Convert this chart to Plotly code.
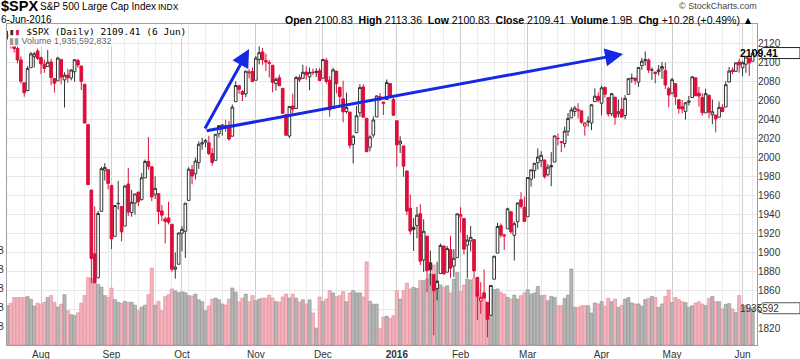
import plotly.graph_objects as go
import pandas as pd

dates = """
2015-07-20 2015-07-21 2015-07-22 2015-07-23 2015-07-24 2015-07-27 2015-07-28 2015-07-29 2015-07-30 2015-07-31
2015-08-03 2015-08-04 2015-08-05 2015-08-06 2015-08-07 2015-08-10 2015-08-11 2015-08-12 2015-08-13 2015-08-14
2015-08-17 2015-08-18 2015-08-19 2015-08-20 2015-08-21 2015-08-24 2015-08-25 2015-08-26 2015-08-27 2015-08-28 2015-08-31
2015-09-01 2015-09-02 2015-09-03 2015-09-04 2015-09-08 2015-09-09 2015-09-10 2015-09-11 2015-09-14 2015-09-15
2015-09-16 2015-09-17 2015-09-18 2015-09-21 2015-09-22 2015-09-23 2015-09-24 2015-09-25 2015-09-28 2015-09-29 2015-09-30
2015-10-01 2015-10-02 2015-10-05 2015-10-06 2015-10-07 2015-10-08 2015-10-09 2015-10-12 2015-10-13 2015-10-14 2015-10-15
2015-10-16 2015-10-19 2015-10-20 2015-10-21 2015-10-22 2015-10-23 2015-10-26 2015-10-27 2015-10-28 2015-10-29 2015-10-30
2015-11-02 2015-11-03 2015-11-04 2015-11-05 2015-11-06 2015-11-09 2015-11-10 2015-11-11 2015-11-12 2015-11-13
2015-11-16 2015-11-17 2015-11-18 2015-11-19 2015-11-20 2015-11-23 2015-11-24 2015-11-25 2015-11-27 2015-11-30
2015-12-01 2015-12-02 2015-12-03 2015-12-04 2015-12-07 2015-12-08 2015-12-09 2015-12-10 2015-12-11 2015-12-14 2015-12-15
2015-12-16 2015-12-17 2015-12-18 2015-12-21 2015-12-22 2015-12-23 2015-12-24 2015-12-28 2015-12-29 2015-12-30 2015-12-31
2016-01-04 2016-01-05 2016-01-06 2016-01-07 2016-01-08 2016-01-11 2016-01-12 2016-01-13 2016-01-14 2016-01-15
2016-01-19 2016-01-20 2016-01-21 2016-01-22 2016-01-25 2016-01-26 2016-01-27 2016-01-28 2016-01-29
2016-02-01 2016-02-02 2016-02-03 2016-02-04 2016-02-05 2016-02-08 2016-02-09 2016-02-10 2016-02-11 2016-02-12
2016-02-16 2016-02-17 2016-02-18 2016-02-19 2016-02-22 2016-02-23 2016-02-24 2016-02-25 2016-02-26 2016-02-29
2016-03-01 2016-03-02 2016-03-03 2016-03-04 2016-03-07 2016-03-08 2016-03-09 2016-03-10 2016-03-11 2016-03-14 2016-03-15
2016-03-16 2016-03-17 2016-03-18 2016-03-21 2016-03-22 2016-03-23 2016-03-24 2016-03-28 2016-03-29 2016-03-30 2016-03-31
2016-04-01 2016-04-04 2016-04-05 2016-04-06 2016-04-07 2016-04-08 2016-04-11 2016-04-12 2016-04-13 2016-04-14 2016-04-15
2016-04-18 2016-04-19 2016-04-20 2016-04-21 2016-04-22 2016-04-25 2016-04-26 2016-04-27 2016-04-28 2016-04-29
2016-05-02 2016-05-03 2016-05-04 2016-05-05 2016-05-06 2016-05-09 2016-05-10 2016-05-11 2016-05-12 2016-05-13
2016-05-16 2016-05-17 2016-05-18 2016-05-19 2016-05-20 2016-05-23 2016-05-24 2016-05-25 2016-05-26 2016-05-27 2016-05-31
2016-06-01 2016-06-02 2016-06-03 2016-06-06
""".split()

opens = [
    2126.8, 2127.6, 2118.2, 2114.2, 2102.2, 2078.2, 2070.0, 2094.0, 2105.5, 2111.6,
    2104.5, 2097.7, 2095.3, 2100.1, 2082.6, 2080.1, 2102.7, 2081.1, 2086.2, 2083.2, 2089.7, 2101.5, 2095.7, 2076.6, 2034.1, 1965.2, 1898.1, 1872.8, 1942.8, 1986.1, 1986.7,
    1970.1, 1916.5, 1950.8, 1947.8, 1927.3, 1971.5, 1941.6, 1951.5, 1963.1, 1955.1, 1978.0, 1995.3, 1989.7, 1960.8, 1961.4, 1943.2, 1934.8, 1935.9, 1929.2, 1881.9, 1887.1,
    1919.7, 1921.8, 1954.3, 1986.6, 1982.3, 1994.0, 2013.7, 2015.7, 2015.0, 2003.7, 1996.5, 2024.4, 2031.7, 2033.1, 2033.5, 2021.9, 2058.2, 2075.1, 2068.8, 2066.5, 2088.4, 2090.0,
    2080.8, 2102.6, 2110.6, 2101.7, 2098.6, 2096.6, 2077.2, 2083.4, 2072.3, 2044.6, 2022.1, 2053.7, 2051.0, 2083.7, 2082.8, 2089.4, 2084.4, 2089.3, 2088.8, 2090.9,
    2082.9, 2101.7, 2080.7, 2051.2, 2090.4, 2073.4, 2061.2, 2047.9, 2047.3, 2013.4, 2025.6, 2046.5, 2073.8, 2040.8, 2010.3, 2023.2, 2042.2, 2063.5, 2057.8, 2060.5, 2077.3, 2060.6,
    2038.2, 2013.8, 2011.7, 1985.3, 1946.0, 1926.1, 1927.8, 1940.3, 1891.7, 1916.7, 1888.7, 1876.2, 1861.5, 1877.4, 1906.3, 1878.8, 1902.5, 1885.2, 1894.0,
    1936.9, 1935.3, 1907.1, 1911.7, 1913.1, 1873.3, 1848.5, 1857.1, 1847.0, 1833.4, 1871.4, 1898.8, 1927.6, 1916.7, 1924.4, 1942.4, 1917.6, 1931.9, 1955.0, 1947.1,
    1937.1, 1976.6, 1985.6, 1994.0, 1996.1, 1996.9, 1981.4, 1991.0, 1994.7, 2019.3, 2015.3, 2014.2, 2026.9, 2041.2, 2047.9, 2048.6, 2048.6, 2032.5, 2037.9, 2035.8, 2058.3, 2063.8,
    2056.6, 2073.2, 2062.5, 2045.6, 2063.0, 2045.5, 2050.2, 2043.7, 2065.9, 2082.9, 2083.1, 2078.8, 2096.1, 2101.5, 2102.1, 2091.5, 2089.4, 2089.8, 2092.6, 2090.9, 2071.8,
    2067.2, 2077.2, 2060.3, 2052.9, 2047.8, 2057.6, 2062.6, 2083.3, 2067.2, 2062.5, 2046.5, 2065.0, 2044.4, 2044.2, 2041.9, 2052.2, 2052.6, 2078.9, 2091.4, 2090.1, 2100.1,
    2093.9, 2097.7, 2104.1, 2100.83,
]
highs = [
    2132.8, 2128.4, 2121.0, 2116.9, 2106.0, 2078.2, 2095.6, 2110.6, 2110.6, 2114.2,
    2105.7, 2102.5, 2112.7, 2103.3, 2082.6, 2105.4, 2102.7, 2089.1, 2092.9, 2092.5, 2102.9, 2103.5, 2096.2, 2076.6, 2034.1, 1965.2, 1948.0, 1943.1, 1989.6, 1993.5, 1986.7,
    1970.1, 1948.9, 1975.0, 1947.8, 1970.4, 1988.6, 1965.3, 1961.1, 1963.1, 1983.2, 1997.3, 2020.9, 1989.7, 1979.6, 1961.4, 1949.5, 1937.2, 1952.9, 1929.2, 1899.5, 1920.5,
    1927.2, 1951.4, 1989.2, 1991.6, 1999.3, 2016.5, 2020.1, 2018.7, 2022.3, 2009.6, 2024.2, 2033.5, 2034.5, 2039.1, 2037.9, 2055.2, 2079.7, 2075.1, 2070.4, 2090.4, 2092.5, 2094.3,
    2106.2, 2116.5, 2114.6, 2108.8, 2101.9, 2096.6, 2083.7, 2086.9, 2072.3, 2044.6, 2053.2, 2066.7, 2085.3, 2086.7, 2097.1, 2095.6, 2094.1, 2093.0, 2093.3, 2093.8,
    2103.4, 2104.3, 2085.0, 2093.8, 2090.4, 2073.9, 2080.3, 2067.7, 2047.3, 2022.9, 2053.9, 2076.7, 2076.4, 2040.8, 2022.9, 2042.7, 2064.7, 2067.4, 2057.8, 2081.6, 2077.3, 2062.5,
    2038.2, 2021.9, 2011.7, 1985.3, 1960.4, 1935.7, 1947.4, 1950.3, 1934.5, 1916.7, 1901.4, 1876.2, 1889.8, 1908.9, 1906.3, 1906.3, 1917.0, 1903.0, 1940.2,
    1947.2, 1935.3, 1918.0, 1927.4, 1913.1, 1873.3, 1868.3, 1881.6, 1847.0, 1864.8, 1895.8, 1930.7, 1930.0, 1918.8, 1946.7, 1942.4, 1932.1, 1951.8, 1963.0, 1958.3,
    1978.4, 1986.5, 1993.7, 2009.1, 2006.1, 1996.9, 1992.7, 2005.1, 2022.4, 2024.6, 2015.9, 2032.0, 2046.2, 2052.4, 2053.9, 2056.6, 2048.6, 2036.0, 2042.7, 2055.9, 2072.2, 2067.9,
    2075.1, 2074.0, 2062.5, 2067.3, 2063.0, 2060.6, 2062.9, 2065.1, 2083.2, 2087.8, 2083.2, 2094.7, 2104.4, 2111.1, 2103.8, 2094.3, 2089.4, 2096.9, 2099.9, 2099.3, 2073.9,
    2083.4, 2077.2, 2060.3, 2060.2, 2058.0, 2064.2, 2084.9, 2083.3, 2074.0, 2067.0, 2071.9, 2065.7, 2060.6, 2044.2, 2058.4, 2055.6, 2079.7, 2094.7, 2094.3, 2099.1, 2103.5,
    2101.0, 2105.3, 2104.1, 2113.36,
]
lows = [
    2123.7, 2114.2, 2110.0, 2098.6, 2077.1, 2063.5, 2069.1, 2094.0, 2094.1, 2102.1,
    2087.3, 2088.6, 2095.3, 2075.5, 2067.9, 2080.1, 2076.5, 2052.1, 2078.3, 2080.6, 2079.3, 2094.1, 2070.5, 2035.7, 1970.9, 1867.0, 1867.1, 1872.8, 1942.8, 1975.2, 1965.9,
    1903.1, 1916.5, 1944.7, 1911.2, 1927.3, 1937.9, 1937.2, 1939.2, 1948.3, 1954.3, 1977.9, 1986.7, 1953.5, 1955.8, 1929.2, 1932.6, 1908.9, 1929.0, 1879.2, 1871.9, 1887.1,
    1900.7, 1893.7, 1954.3, 1971.2, 1976.4, 1987.5, 2007.6, 2010.3, 2001.8, 1990.7, 1996.5, 2020.5, 2022.3, 2026.6, 2017.2, 2021.9, 2058.2, 2066.5, 2058.8, 2063.1, 2082.6, 2079.3,
    2080.8, 2097.5, 2097.0, 2090.4, 2083.7, 2068.2, 2069.9, 2074.9, 2045.7, 2022.0, 2019.9, 2045.9, 2051.0, 2078.8, 2082.8, 2081.4, 2070.3, 2086.3, 2084.1, 2080.4,
    2082.9, 2077.1, 2042.4, 2051.2, 2066.8, 2052.3, 2036.5, 2045.7, 2008.8, 1993.3, 2025.6, 2042.4, 2041.7, 2005.3, 2005.9, 2020.5, 2042.2, 2058.7, 2044.2, 2060.5, 2062.0, 2043.6,
    1989.7, 2004.2, 1979.1, 1938.8, 1918.5, 1901.1, 1914.4, 1886.3, 1878.9, 1857.8, 1864.6, 1812.3, 1849.0, 1877.4, 1876.0, 1878.8, 1872.7, 1873.7, 1894.0,
    1920.3, 1897.3, 1872.7, 1900.5, 1872.7, 1828.5, 1834.9, 1850.3, 1810.1, 1833.4, 1871.4, 1898.8, 1915.1, 1902.2, 1924.4, 1919.4, 1891.0, 1925.4, 1945.8, 1931.8,
    1937.1, 1968.8, 1977.4, 1986.8, 1989.4, 1977.4, 1979.8, 1969.3, 1994.7, 2012.1, 2005.2, 2010.0, 2022.2, 2041.2, 2043.1, 2040.6, 2034.9, 2022.5, 2032.0, 2028.3, 2058.3, 2057.5,
    2044.0, 2062.6, 2042.6, 2043.1, 2033.8, 2041.7, 2041.9, 2039.7, 2065.9, 2078.1, 2076.3, 2073.7, 2091.7, 2096.3, 2088.5, 2081.2, 2077.5, 2085.8, 2082.3, 2071.6, 2052.3,
    2066.1, 2054.9, 2045.6, 2045.8, 2039.5, 2054.3, 2062.6, 2064.5, 2053.1, 2043.5, 2046.5, 2040.8, 2034.5, 2025.9, 2041.9, 2047.3, 2052.6, 2078.9, 2087.1, 2090.1, 2088.7,
    2085.1, 2088.6, 2085.4, 2100.83,
]
closes = [
    2128.3, 2119.2, 2114.2, 2102.2, 2079.7, 2067.6, 2093.3, 2108.57, 2108.63, 2103.8,
    2098.0, 2093.3, 2099.8, 2083.6, 2077.6, 2104.2, 2084.1, 2086.1, 2083.4, 2091.5, 2102.4, 2096.9, 2079.6, 2035.7, 1970.9, 1893.2, 1867.6, 1940.5, 1987.7, 1988.9, 1972.2,
    1913.9, 1948.9, 1951.1, 1921.2, 1969.4, 1942.0, 1952.3, 1961.1, 1953.0, 1978.1, 1995.3, 1990.2, 1958.0, 1967.0, 1942.7, 1938.8, 1932.2, 1931.3, 1881.8, 1884.1, 1920.0,
    1923.8, 1951.4, 1987.1, 1979.9, 1995.8, 2013.4, 2014.9, 2017.5, 2003.7, 1994.2, 2023.9, 2033.1, 2033.7, 2030.8, 2018.9, 2052.5, 2075.2, 2071.2, 2065.9, 2090.4, 2089.4, 2079.4,
    2104.1, 2109.8, 2102.3, 2099.9, 2099.2, 2078.6, 2081.7, 2075.0, 2046.0, 2023.0, 2053.2, 2050.4, 2083.6, 2081.2, 2089.2, 2086.6, 2089.1, 2088.9, 2090.1, 2080.4,
    2102.6, 2079.5, 2049.6, 2091.7, 2077.1, 2063.6, 2047.6, 2052.2, 2012.4, 2021.9, 2043.4, 2073.1, 2041.9, 2005.6, 2021.2, 2039.0, 2064.3, 2061.0, 2056.5, 2078.4, 2063.4, 2043.9,
    2012.7, 2016.7, 1990.3, 1943.1, 1922.0, 1923.7, 1938.7, 1890.3, 1921.8, 1880.3, 1881.3, 1859.3, 1869.0, 1906.9, 1877.1, 1903.6, 1883.0, 1893.4, 1940.2,
    1939.4, 1903.0, 1912.5, 1915.5, 1880.1, 1853.4, 1852.2, 1851.9, 1829.1, 1864.8, 1895.6, 1926.8, 1917.83, 1917.78, 1945.5, 1921.3, 1929.8, 1951.7, 1948.1, 1932.2,
    1978.4, 1986.5, 1993.4, 2000.0, 2001.8, 1979.3, 1989.3, 1989.6, 2022.2, 2019.6, 2015.9, 2027.2, 2040.6, 2049.6, 2051.6, 2049.8, 2036.7, 2035.9, 2037.1, 2055.0, 2064.0, 2059.7,
    2072.8, 2066.1, 2045.2, 2066.7, 2041.9, 2047.6, 2042.0, 2061.7, 2082.4, 2082.8, 2080.7, 2094.3, 2100.8, 2102.4, 2091.5, 2091.6, 2087.8, 2091.7, 2095.2, 2075.8, 2065.3,
    2081.4, 2063.4, 2051.1, 2050.6, 2057.1, 2058.7, 2084.4, 2064.5, 2064.1, 2046.6, 2066.7, 2047.2, 2047.6, 2040.0, 2052.3, 2048.0, 2076.1, 2090.5, 2090.1, 2099.1, 2097.0,
    2099.3, 2105.3, 2099.13, 2109.41,
]
# volume in billions of shares
volumes = [
    2.07, 2.2, 2.5, 2.5, 2.5, 2.5, 2.55, 2.4, 2.05, 2.2,
    2.15, 2.25, 2.5, 2.6, 2.25, 2.0, 2.15, 2.65, 1.8, 1.6, 1.55, 1.7, 2.2, 2.6, 3.55, 3.5, 3.25, 3.2, 3.05, 2.6, 2.5,
    3.0, 2.4, 2.25, 2.2, 2.3, 2.25, 2.25, 2.1, 1.8, 2.0, 2.1, 2.65, 4.05, 2.1, 2.3, 1.8, 2.55, 2.65, 2.95, 2.85, 2.75,
    2.8, 2.75, 2.6, 2.58, 2.68, 2.38, 2.28, 1.8, 2.05, 2.42, 2.47, 2.38, 2.16, 2.1, 2.42, 3.0, 2.78, 2.26, 2.47, 2.68, 2.28, 2.6,
    2.33, 2.42, 2.47, 2.47, 2.63, 2.47, 2.28, 2.26, 2.53, 2.68, 2.47, 2.68, 2.47, 2.26, 2.38, 2.16, 2.38, 1.68, 0.89, 2.53,
    2.28, 2.42, 2.86, 2.74, 2.53, 2.6, 2.81, 2.28, 2.74, 2.86, 2.74, 2.74, 2.53, 4.37, 2.3, 2.15, 2.15, 0.85, 1.47, 1.52, 1.4, 1.54,
    2.86, 2.42, 2.86, 3.26, 2.95, 3.03, 2.98, 3.39, 3.39, 3.47, 3.74, 4.21, 3.39, 3.16, 3.03, 3.12, 2.74, 3.47, 3.82,
    2.81, 3.16, 3.47, 3.42, 3.51, 2.86, 2.51, 2.68, 2.25, 3.12, 2.91, 2.95, 2.77, 2.68, 2.51, 2.42, 2.63, 2.42, 2.6, 2.74,
    2.91, 2.68, 2.74, 3.08, 2.6, 2.63, 2.33, 2.56, 2.51, 2.07, 2.07, 2.46, 2.63, 4.0, 1.98, 1.98, 2.07, 2.07, 2.07, 1.68, 2.21, 2.16,
    2.28, 2.04, 2.46, 2.28, 2.42, 1.98, 2.09, 2.42, 2.5, 2.21, 2.16, 2.16, 2.04, 2.39, 2.46, 2.56, 2.5, 1.98, 2.16, 2.56, 2.9,
    2.23, 2.5, 2.39, 2.28, 2.23, 1.98, 2.07, 2.21, 2.28, 2.16, 2.07, 2.46, 2.56, 2.28, 2.28, 1.9, 2.14, 2.18, 1.9, 1.72, 2.6,
    2.04, 2.09, 1.93, 1.935592832,
]
month_labels = ["Aug", "Sep", "Oct", "Nov", "Dec", "<b>2016</b>", "Feb", "Mar", "Apr", "May", "Jun"]
price_ticks = [1820, 1840, 1860, 1880, 1900, 1920, 1940, 1960, 1980, 2000,
               2020, 2040, 2060, 2080, 2100, 2120]
vol_ticks = [1, 2, 3, 4, 5]
vol_ticktext = ["1.0B", "2.0B", "3.0B", "4.0B", "5.0B"]

assert len(dates) == len(opens) == len(highs) == len(lows) == len(closes) == len(volumes)

n = len(dates)
xs = list(range(n))
dts = pd.to_datetime(dates)
month_pos = [i for i in range(1, n) if dts[i].month != dts[i - 1].month]
week_pos = [i for i in range(1, n) if dts[i].isocalendar()[1] != dts[i - 1].isocalendar()[1]]
week_pos = [i for i in week_pos if i not in month_pos]
down = [i > 0 and closes[i] < closes[i - 1] for i in range(n)]

RED = "#dc0f3a"
BLK = "#333333"
BLUE = "#1428e6"

# plot area in pixels: x 7..757, y 24..345
PL, PR, PT, PB = 7, 757, 24, 345


def px(xp):
    return (xp - PL) / (PR - PL)


def py(yp):
    return (PB - yp) / (PB - PT)


fig = go.Figure()

fig.add_trace(go.Bar(
    x=xs, y=volumes, yaxis="y",
    marker=dict(color=["#f3b4bd" if d else "#b6b6b6" for d in down],
                line=dict(color=["#e48896" if d else "#8e8e8e" for d in down], width=0.6)),
    hoverinfo="skip", showlegend=False,
))

for flag, col in ((False, BLK), (True, RED)):
    idx = [i for i in range(n) if down[i] == flag]
    fig.add_trace(go.Candlestick(
        x=[xs[i] for i in idx],
        open=[opens[i] for i in idx], high=[highs[i] for i in idx],
        low=[lows[i] for i in idx], close=[closes[i] for i in idx],
        yaxis="y2",
        increasing=dict(line=dict(color=col, width=1), fillcolor="white"),
        decreasing=dict(line=dict(color=col, width=1), fillcolor=col),
        whiskerwidth=0, showlegend=False, hoverinfo="skip",
    ))

font = "Liberation Sans, Arial, sans-serif"
ann = []


def text(xp, yp, t, size=10, color="#000", anchor="left", family=font, bg=None, yanchor="middle"):
    d = dict(x=px(xp), y=py(yp), xref="paper", yref="paper", text=t, showarrow=False,
             xanchor=anchor, yanchor=yanchor, font=dict(size=size, color=color, family=family),
             borderpad=0)
    if bg:
        d["bgcolor"] = bg
    ann.append(d)


text(0, 6, "<b>$SPX</b>", size=14.5)
text(39, 6.5, "S&amp;P 500 Large Cap Index", size=10)
text(157, 7, "INDX", size=8.5)
text(0, 19.5, "6-Jun-2016", size=10)
text(758, 6, "\u00a9 StockCharts.com", size=9, color="#444", anchor="right")
o, h, l, c = opens[-1], highs[-1], lows[-1], closes[-1]
chg = c - closes[-2]
info = (f"<b>Open</b> {o:.2f}  <b>High</b> {h:.2f}  <b>Low</b> {l:.2f}  "
        f"<b>Close</b> {c:.2f}  <b>Volume</b> {volumes[-1]:.1f}B  "
        f"<b>Chg</b> {chg:+.2f} ({chg / closes[-2] * 100:+.2f}%) \u25b2")
text(754, 19.5, info, size=10.5, anchor="right")
text(8, 31, f"<span style='color:{BLK}'>\u25ae</span><span style='color:{RED}'>\u25ae</span> "
            f"$SPX (Daily) {c:.2f} (6 Jun)",
     size=9.5, family="DejaVu Sans Mono, monospace", bg="white")
text(8, 41, f"<span style='color:#999'>\u25ae\u25ae</span> Volume {volumes[-1] * 1e9:,.0f}",
     size=9, color="#666", bg="white")

# arrows (drawn in data space: index / price)
for tail, head in (((58.6, 2028.4), (72.0, 2113.7)), ((58.9, 2027.4), (183.4, 2108.4))):
    ann.append(dict(x=head[0], y=head[1], ax=tail[0], ay=tail[1], xref="x", yref="y2",
                    axref="x", ayref="y2", showarrow=True, arrowhead=2, arrowsize=1.2,
                    arrowwidth=3, arrowcolor=BLUE, text=""))

# last-value tags
ann.append(dict(x=px(780), y=c, xref="paper", yref="y2", text=f"<b>{c:.2f}</b>",
                showarrow=False, font=dict(size=10.5, color="#000", family=font)))
ann.append(dict(x=px(781), y=volumes[-1], xref="paper", yref="y", text="1935592",
                showarrow=False, font=dict(size=10, color="#333", family=font)))

ph = 5.5 / 0.95  # 5.5 px in price units
vh = 5.5 / 19.0  # 5.5 px in volume units
shapes = [
    dict(type="path", xref="paper", yref="y2",
         path=(f"M{px(757)},{c} L{px(763)},{c + ph} L{px(800)},{c + ph} "
               f"L{px(800)},{c - ph} L{px(763)},{c - ph} Z"),
         fillcolor="white", line=dict(color="#222", width=1), layer="above"),
    dict(type="path", xref="paper", yref="y",
         path=(f"M{px(757)},{volumes[-1]} L{px(763)},{volumes[-1] + vh} L{px(800)},{volumes[-1] + vh} "
               f"L{px(800)},{volumes[-1] - vh} L{px(763)},{volumes[-1] - vh} Z"),
         fillcolor="white", line=dict(color="#555", width=1), layer="above"),
]

fig.update_layout(
    width=800, height=359,
    margin=dict(l=PL, r=800 - PR, t=PT, b=359 - PB, autoexpand=False),
    paper_bgcolor="white", plot_bgcolor="white",
    font=dict(family=font, size=10, color="#333"),
    showlegend=False, boxgap=0.12, boxgroupgap=0.1, bargap=0.06,
    annotations=ann, shapes=shapes,
    xaxis=dict(
        range=[-0.13, 223.3], tickvals=month_pos, ticktext=month_labels, automargin=False,
        showgrid=True, gridcolor="#cdcdcd", gridwidth=1, zeroline=False,
        minor=dict(tickvals=week_pos, showgrid=True, gridcolor="#ececec", gridwidth=1),
        showline=True, mirror=True, linecolor="#a0a0a0", ticks="",
        tickfont=dict(size=10, color="#333"), rangeslider=dict(visible=False),
    ),
    yaxis=dict(
        range=[0, (PB - PT) / 19.0], tickvals=vol_ticks, ticktext=vol_ticktext, automargin=False,
        showgrid=False, zeroline=False, showline=True, mirror=True, linecolor="#a0a0a0",
        ticks="", tickfont=dict(size=10, color="#333"), side="left", ticklabelstandoff=0,
    ),
    yaxis2=dict(
        overlaying="y", side="right", range=[1802.1, 2140.0], tickvals=price_ticks,
        automargin=False,
        showgrid=True, gridcolor="#e6e6e6", zeroline=False, ticks="",
        tickfont=dict(size=10, color="#333"),
    ),
)

fig.write_html("out.html", config={"displayModeBar": False},
               post_script="document.body.style.margin='0px';")
